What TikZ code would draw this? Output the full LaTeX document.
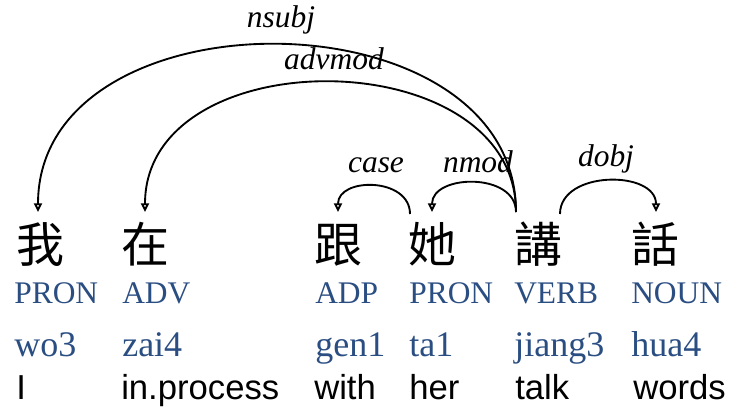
\documentclass[tikz,border=0pt]{standalone}
\usepackage{fontspec}
\setmainfont{Liberation Serif}
\newfontfamily\cjkfont{Noto Sans CJK TC}
\newfontfamily\glossfont{Liberation Sans}
\usetikzlibrary{arrows.meta}
\definecolor{posblue}{RGB}{42,78,130}
\tikzset{
  word/.style={anchor=base west, inner sep=0pt, font=\cjkfont\fontsize{36}{36}\selectfont},
  postag/.style={anchor=base west, inner sep=0pt, text=posblue, font=\fontsize{23.6}{24}\selectfont},
  pin/.style={anchor=base west, inner sep=0pt, text=posblue, font=\fontsize{27}{27}\selectfont},
  gloss/.style={anchor=base west, inner sep=0pt, font=\glossfont\fontsize{26}{26}\selectfont},
  rel/.style={anchor=base, inner sep=0pt, font=\itshape\fontsize{23.6}{24}\selectfont},
  arc/.style={line width=1.4pt, -{Triangle[open, length=6.5pt, width=6pt]}}
}
\begin{document}
\begin{tikzpicture}[x=0.75pt, y=-0.75pt]
\useasboundingbox (0,0) rectangle (732,412);
% words
\node[word] (c1) at (16,262) {我};
\node[word] (c2) at (121,262) {在};
\node[word] (c3) at (314,262) {跟};
\node[word] (c4) at (408,262) {她};
\node[word] (c5) at (514,262) {講};
\node[word] (c6) at (631,262) {話};
% POS
\node[postag] (p1) at (14,303) {PRON};
\node[postag] (p2) at (122,303) {ADV};
\node[postag] (p3) at (315,303) {ADP};
\node[postag] (p4) at (409,303) {PRON};
\node[postag] (p5) at (514,303) {VERB};
\node[postag] (p6) at (631,303) {NOUN};
% pinyin
\node[pin] (y1) at (14,356) {wo3};
\node[pin] (y2) at (122,356) {zai4};
\node[pin] (y3) at (315,356) {gen1};
\node[pin] (y4) at (409,356) {ta1};
\node[pin] (y5) at (514,356) {jiang3};
\node[pin] (y6) at (631,356) {hua4};
% gloss
\node[gloss] (g1) at (16,399) {I};
\node[gloss] (g2) at (121,399) {in.process};
\node[gloss] (g3) at (314,399) {with};
\node[gloss] (g4) at (409,399) {her};
\node[gloss] (g5) at (515,399) {talk};
\node[gloss] (g6) at (633,399) {words};
% arc endpoints
\coordinate (t1) at (38,212);
\coordinate (t2) at (145,212);
\coordinate (t3) at (338,212);
\coordinate (t4) at (432,212);
\coordinate (t6) at (656,212);
\coordinate (s4) at (410,214);
\coordinate (s5) at (516,212);
\coordinate (s5r) at (560,214);
% arcs
\draw[arc] (s5) .. controls +(0,-222) and +(0,-224) .. (t1);
\draw[arc] (s5) .. controls +(0,-172) and +(0,-174) .. (t2);
\draw[arc] (s4) .. controls +(0,-37) and +(0,-35) .. (t3);
\draw[arc] (s5) .. controls +(0,-40) and +(0,-38) .. (t4);
\draw[arc] (s5r) .. controls +(0,-44) and +(0,-42) .. (t6);
% labels
\node[rel] (l1) at (281,27) {nsubj};
\node[rel] (l2) at (334,69) {advmod};
\node[rel] (l3) at (376,172) {case};
\node[rel] (l4) at (478,172) {nmod};
\node[rel] (l5) at (606,166) {dobj};
\end{tikzpicture}
\end{document}
